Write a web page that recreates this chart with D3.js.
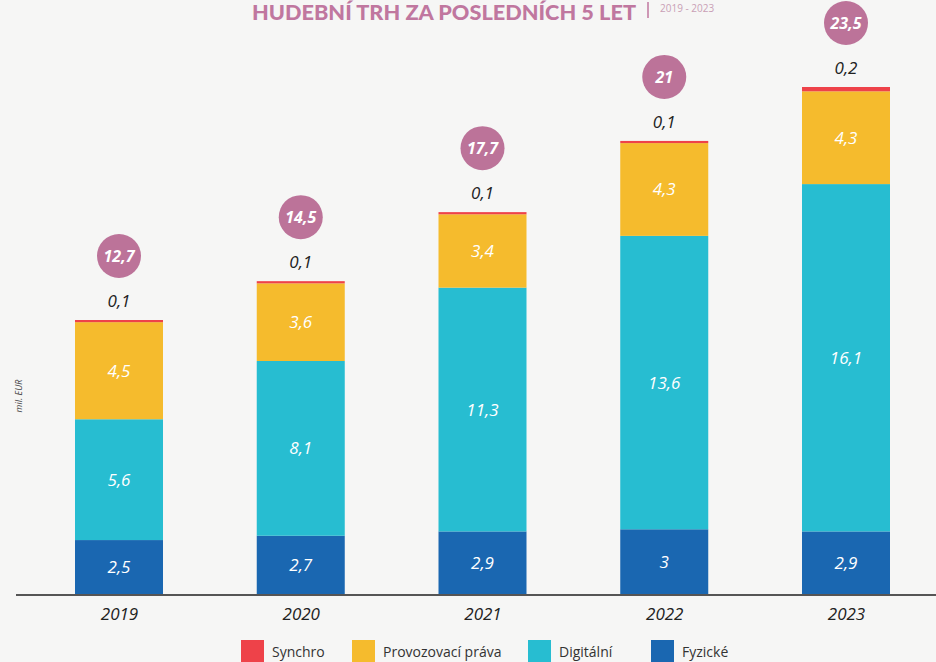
<!DOCTYPE html>
<html>
<head>
<meta charset="utf-8">
<script src="https://cdn.jsdelivr.net/npm/d3@7"></script>
<style>
  html, body { margin: 0; padding: 0; background: #f6f6f5; }
  svg { display: block; }
</style>
</head>
<body>
<div id="vis"></div>
<script>
const years = ['2019', '2020', '2021', '2022', '2023'];
const fyzicke = [2.5, 2.7, 2.9, 3, 2.9];
const digitalni = [5.6, 8.1, 11.3, 13.6, 16.1];
const provozovaci = [4.5, 3.6, 3.4, 4.3, 4.3];
const synchro = [0.1, 0.1, 0.1, 0.1, 0.2];
const totals = [12.7, 14.5, 17.7, 21, 23.5];

const seriesNames = ['Fyzické', 'Digitální', 'Provozovací práva', 'Synchro'];
const seriesColors = ['#1a67b1', '#27bdd1', '#f5bb2d', '#ee4249'];
const legendOrder = ['Synchro', 'Provozovací práva', 'Digitální', 'Fyzické'];

const W = 936, H = 662;
const baseY = 594;
const barW = 88;
const fmt = (v) => String(v).replace('.', ',');

const svg = d3.select('#vis').append('svg').attr('width', W).attr('height', H);

const x = d3.scalePoint().domain(years).range([119, 846]);
const y = d3.scaleLinear().domain([0, 23.5]).range([baseY, 87]);

// stack data
const rows = years.map((yr, i) => ({
  year: yr,
  'Fyzické': fyzicke[i],
  'Digitální': digitalni[i],
  'Provozovací práva': provozovaci[i],
  'Synchro': synchro[i],
}));
const stacked = d3.stack().keys(seriesNames)(rows);

const bars = svg.append('g');
stacked.forEach((layer, li) => {
  bars.append('g')
    .selectAll('rect')
    .data(layer)
    .join('rect')
    .attr('x', (d) => x(d.data.year) - barW / 2)
    .attr('y', (d) => y(d[1]))
    .attr('width', barW)
    .attr('height', (d) => y(d[0]) - y(d[1]))
    .attr('fill', seriesColors[li]);
});

// labels inside segments (skip synchro)
stacked.slice(0, 3).forEach((layer) => {
  bars.append('g')
    .selectAll('text')
    .data(layer)
    .join('text')
    .attr('x', (d) => x(d.data.year))
    .attr('y', (d) => (y(d[0]) + y(d[1])) / 2 + 6)
    .attr('text-anchor', 'middle')
    .attr('fill', '#fff')
    .attr('font-family', 'Open Sans, sans-serif')
    .attr('font-style', 'italic')
    .attr('font-size', 17)
    .text((d) => fmt(+(d[1] - d[0]).toFixed(1)));
});

// synchro value above bar
svg.append('g')
  .selectAll('text')
  .data(years)
  .join('text')
  .attr('x', (d) => x(d))
  .attr('y', (d, i) => y(totals[i]) - 13)
  .attr('text-anchor', 'middle')
  .attr('fill', '#222')
  .attr('font-family', 'Open Sans, sans-serif')
  .attr('font-style', 'italic')
  .attr('font-size', 17)
  .text((d, i) => fmt(synchro[i]));

// total bubbles
const bub = svg.append('g')
  .selectAll('g')
  .data(years)
  .join('g')
  .attr('transform', (d, i) => `translate(${x(d)},${y(totals[i]) - 64})`);
bub.append('circle').attr('r', 22).attr('fill', '#bc7399');
bub.append('text')
  .attr('y', 6)
  .attr('text-anchor', 'middle')
  .attr('fill', '#fff')
  .attr('font-family', 'Open Sans, sans-serif')
  .attr('font-style', 'italic')
  .attr('font-weight', 700)
  .attr('font-size', 16)
  .text((d, i) => fmt(totals[i]));

// axis
const xAxis = d3.axisBottom(x).tickSize(0).tickPadding(14);
const ax = svg.append('g').attr('transform', `translate(0,${baseY})`).call(xAxis);
ax.select('.domain').remove();
ax.selectAll('text')
  .attr('font-family', 'Open Sans, sans-serif')
  .attr('font-style', 'italic')
  .attr('font-size', 17)
  .attr('fill', '#222');
svg.append('line')
  .attr('x1', 16).attr('x2', W)
  .attr('y1', baseY + 1).attr('y2', baseY + 1)
  .attr('stroke', '#555').attr('stroke-width', 2);

// y label
svg.append('text')
  .attr('transform', 'translate(22,396) rotate(-90)')
  .attr('text-anchor', 'middle')
  .attr('font-family', 'Open Sans, sans-serif')
  .attr('font-style', 'italic')
  .attr('font-size', 9)
  .attr('fill', '#444')
  .text('mil. EUR');

// title
svg.append('text')
  .attr('x', 252).attr('y', 20)
  .attr('font-family', 'Lato, sans-serif')
  .attr('font-weight', 900)
  .attr('font-size', 21)
  .attr('fill', '#c0779f')
  .attr('textLength', 384)
  .attr('lengthAdjust', 'spacingAndGlyphs')
  .text('HUDEBNÍ TRH ZA POSLEDNÍCH 5 LET');
svg.append('line')
  .attr('x1', 648).attr('x2', 648).attr('y1', 2).attr('y2', 18)
  .attr('stroke', '#c0779f').attr('stroke-width', 1.5);
svg.append('text')
  .attr('x', 660).attr('y', 12)
  .attr('font-family', 'Open Sans, sans-serif')
  .attr('font-size', 10)
  .attr('fill', '#c9a0b6')
  .text('2019 - 2023');

// legend
const legendX = [241, 352, 528, 651];
const lg = svg.append('g')
  .selectAll('g')
  .data(legendOrder)
  .join('g')
  .attr('transform', (d, i) => `translate(${legendX[i]},640)`);
lg.append('rect')
  .attr('width', 23).attr('height', 22)
  .attr('fill', (d) => seriesColors[seriesNames.indexOf(d)]);
lg.append('text')
  .attr('x', 31).attr('y', 17)
  .attr('font-family', 'Open Sans, sans-serif')
  .attr('font-size', 14)
  .attr('fill', '#333')
  .text((d) => d);
</script>
</body>
</html>
